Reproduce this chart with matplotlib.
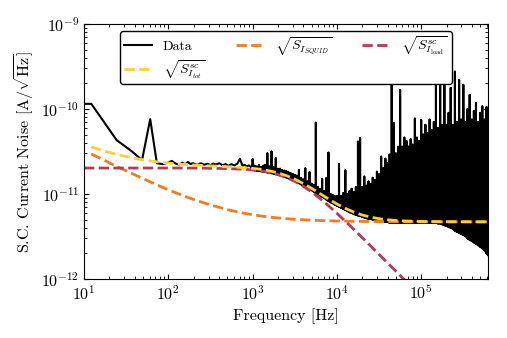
import numpy as np
import matplotlib
matplotlib.use("Agg")
import matplotlib.pyplot as plt

plt.rcParams['font.family'] = 'serif'
plt.rcParams['font.serif'] = ['cmr10']
plt.rcParams['mathtext.fontset'] = 'cm'
plt.rcParams['axes.formatter.use_mathtext'] = True
plt.rcParams['font.size'] = 11.5

SCALE = 1e-11  # all amplitudes below are in units of 1e-11 A/sqrt(Hz)

# measured spectrum, resolved part (f < 1 kHz)
lf_freq = [10, 12.2, 24.4, 36.6, 48.8, 61.0, 73.2, 85.4, 97.6, 110, 122, 134, 146,
           159, 171, 183, 195, 220, 244, 268, 293, 317, 342, 366, 403, 440, 476,
           513, 562, 610, 659, 708, 757, 806, 854, 903, 952]
lf_amp = [11.5, 11.5, 4.3, 3.2, 2.5, 7.6, 2.3, 2.25, 2.32, 2.45, 2.28, 2.22, 2.33,
          2.24, 2.38, 2.25, 2.30, 2.20, 2.30, 2.21, 2.27, 2.18, 2.28, 2.22, 2.30,
          2.17, 2.25, 2.15, 2.24, 2.17, 2.28, 2.60, 2.15, 2.20, 2.11, 2.17, 2.08]

# measured spectrum, dense part (f >= 1 kHz): log10 f, trough and peak per pixel column
hf_logf = [3.000, 3.025, 3.050, 3.075, 3.100, 3.125, 3.150, 3.175, 3.200, 3.225,
           3.250, 3.275, 3.300, 3.325, 3.350, 3.375, 3.400, 3.425, 3.450, 3.475,
           3.500, 3.525, 3.550, 3.575, 3.600, 3.625, 3.650, 3.675, 3.700, 3.725,
           3.750, 3.775, 3.800, 3.825, 3.850, 3.875, 3.900, 3.925, 3.950, 3.975,
           4.000, 4.025, 4.050, 4.075, 4.100, 4.125, 4.150, 4.175, 4.200, 4.225,
           4.250, 4.275, 4.300, 4.325, 4.350, 4.375, 4.400, 4.425, 4.450, 4.475,
           4.500, 4.525, 4.550, 4.575, 4.600, 4.625, 4.650, 4.675, 4.700, 4.725,
           4.750, 4.775, 4.800, 4.825, 4.850, 4.875, 4.900, 4.925, 4.950, 4.975,
           5.000, 5.025, 5.050, 5.075, 5.100, 5.125, 5.150, 5.175, 5.200, 5.225,
           5.250, 5.275, 5.300, 5.325, 5.350, 5.375, 5.400, 5.425, 5.450, 5.475,
           5.500, 5.525, 5.550, 5.575, 5.600, 5.625, 5.650, 5.675, 5.700, 5.725,
           5.750, 5.775, 5.800]
hf_low = [1.92, 1.90, 1.89, 1.87, 1.86, 1.84, 1.82, 1.80, 1.78, 1.76,
          1.73, 1.71, 1.69, 1.66, 1.63, 1.60, 1.57, 1.53, 1.50, 1.46,
          1.42, 1.38, 1.34, 1.30, 1.26, 1.22, 1.18, 1.14, 1.11, 1.07,
          1.03, 1.00, 0.96, 0.93, 0.90, 0.86, 0.83, 0.80, 0.78, 0.75,
          0.73, 0.71, 0.69, 0.67, 0.65, 0.63, 0.61, 0.60, 0.58, 0.57,
          0.56, 0.55, 0.54, 0.53, 0.52, 0.51, 0.51, 0.50, 0.49, 0.49,
          0.48, 0.48, 0.47, 0.47, 0.47, 0.46, 0.46, 0.46, 0.46, 0.46,
          0.46, 0.46, 0.46, 0.46, 0.46, 0.46, 0.46, 0.46, 0.46, 0.46,
          0.46, 0.46, 0.46, 0.46, 0.46, 0.46, 0.46, 0.46, 0.45, 0.45,
          0.44, 0.43, 0.42, 0.41, 0.40, 0.39, 0.37, 0.36, 0.35, 0.34,
          0.33, 0.32, 0.30, 0.29, 0.28, 0.27, 0.26, 0.25, 0.24, 0.23,
          0.22, 0.20, 0.19]
hf_high = [2.56, 2.15, 2.10, 2.18, 2.08, 2.15, 2.20, 3.00, 2.10, 3.15,
           2.05, 2.63, 1.98, 1.98, 1.92, 1.88, 1.85, 1.80, 1.76, 1.72,
           1.68, 1.64, 1.92, 1.54, 1.48, 2.00, 1.40, 1.80, 1.32, 1.28,
           6.90, 1.20, 1.15, 1.50, 1.08, 1.54, 3.06, 1.00, 0.97, 0.94,
           0.95, 2.25, 0.95, 1.02, 1.90, 1.00, 1.08, 1.15, 1.05, 1.20,
           4.13, 4.52, 1.20, 1.60, 1.25, 1.40, 1.30, 1.55, 1.45, 1.83,
           1.70, 2.75, 2.00, 2.60, 2.30, 2.90, 21.6, 6.80, 3.00, 3.60,
           16.8, 3.60, 4.60, 4.20, 3.60, 4.40, 3.80, 7.70, 4.60, 4.20,
           7.40, 5.00, 6.50, 5.20, 7.50, 5.60, 7.00, 30.0, 6.00, 25.0,
           6.50, 30.0, 6.50, 9.00, 17.7, 6.50, 27.5, 7.00, 22.0, 7.50,
           19.2, 7.00, 10.0, 14.6, 7.50, 9.50, 11.7, 7.00, 9.00, 10.7,
           7.50, 10.5, 8.00]

# model curves
model_freq = [12.2, 15, 20, 25, 30, 40, 50, 65, 80, 100, 120, 160, 200, 300, 500,
              800, 1000, 1259, 1585, 1995, 2512, 3162, 3981, 5012, 6310, 7943,
              10000, 12589, 15849, 19953, 25119, 31623, 39811, 50119, 63096,
              79433, 100000, 200000, 400000, 620000]
squid_amp = [2.957, 2.675, 2.328, 2.093, 1.920, 1.680, 1.517, 1.349, 1.233, 1.123,
             1.043, 0.933, 0.861, 0.754, 0.655, 0.592, 0.570, 0.551, 0.535, 0.5225,
             0.512, 0.504, 0.497, 0.4915, 0.487, 0.4837, 0.481, 0.4787, 0.477,
             0.4755, 0.4744, 0.4735, 0.4728, 0.4722, 0.4718, 0.4714, 0.4711,
             0.4705, 0.4702, 0.4701]
tot_amp = [3.581, 3.352, 3.082, 2.909, 2.787, 2.627, 2.526, 2.429, 2.367, 2.311,
           2.273, 2.225, 2.195, 2.147, 2.095, 2.043, 2.004, 1.949, 1.873, 1.773,
           1.645, 1.495, 1.330, 1.164, 1.009, 0.874, 0.763, 0.677, 0.612, 0.566,
           0.534, 0.512, 0.4975, 0.488, 0.482, 0.478, 0.475, 0.4716, 0.4706, 0.4703]
load_freq = [10, 12.2, 20, 50, 100, 200, 300, 500, 800, 1000, 1259, 1585, 1995,
             2512, 3162, 3981, 5012, 6310, 7943, 10000, 12589, 15849, 19953,
             25119, 31623, 39811, 50119, 63096, 79433]
load_amp = [2.02, 2.02, 2.02, 2.02, 2.02, 2.02, 2.01, 1.99, 1.955, 1.921, 1.869,
            1.795, 1.694, 1.563, 1.407, 1.234, 1.055, 0.884, 0.728, 0.593, 0.479,
            0.384, 0.307, 0.245, 0.195, 0.155, 0.1235, 0.0982, 0.078]

# stitch the measured spectrum together: each dense column is a vertical
# stroke trough -> peak -> trough
data_f = list(lf_freq)
data_a = list(lf_amp)
for lg, lo, hi in zip(hf_logf, hf_low, hf_high):
    data_f += [10 ** lg] * 3
    data_a += [lo, hi, lo]
data_f = np.array(data_f)
data_a = np.array(data_a) * SCALE

fig = plt.figure(figsize=(5.07, 3.38), dpi=100)
ax = fig.add_axes([0.1657, 0.1746, 0.7968, 0.7544])

h_data, = ax.plot(data_f, data_a, color='black', lw=1.5, label='Data')
h_squid, = ax.plot(model_freq, np.array(squid_amp) * SCALE, color='#f47b20', lw=2,
                   ls='--', label=r'$\sqrt{S_{I_{SQUID}}}$')
h_load, = ax.plot(load_freq, np.array(load_amp) * SCALE, color='#bc3754', lw=2,
                  ls='--', label=r'$\sqrt{S^{sc}_{I_{\mathrm{load}}}}$')
h_tot, = ax.plot(model_freq, np.array(tot_amp) * SCALE, color='#f8d13c', lw=2,
                 ls='--', label=r'$\sqrt{S^{sc}_{I_{tot}}}$')

ax.set_xscale('log')
ax.set_yscale('log')
ax.set_xlim(10, 6.2e5)
ax.set_ylim(1e-12, 1e-9)
ax.tick_params(which='both', direction='in', top=True, right=True)
ax.set_xlabel('Frequency [Hz]')
ax.set_ylabel(r'S.C. Current Noise [A/$\sqrt{\mathrm{Hz}}$]')

leg = ax.legend(handles=[h_data, h_tot, h_squid, h_load], loc='upper center',
                ncol=3, fancybox=True, framealpha=1, edgecolor='black',
                fontsize=10, borderpad=0.25, labelspacing=0.35, columnspacing=2.2)
leg.get_frame().set_linewidth(1.0)

fig.savefig('out.png', dpi=100)
